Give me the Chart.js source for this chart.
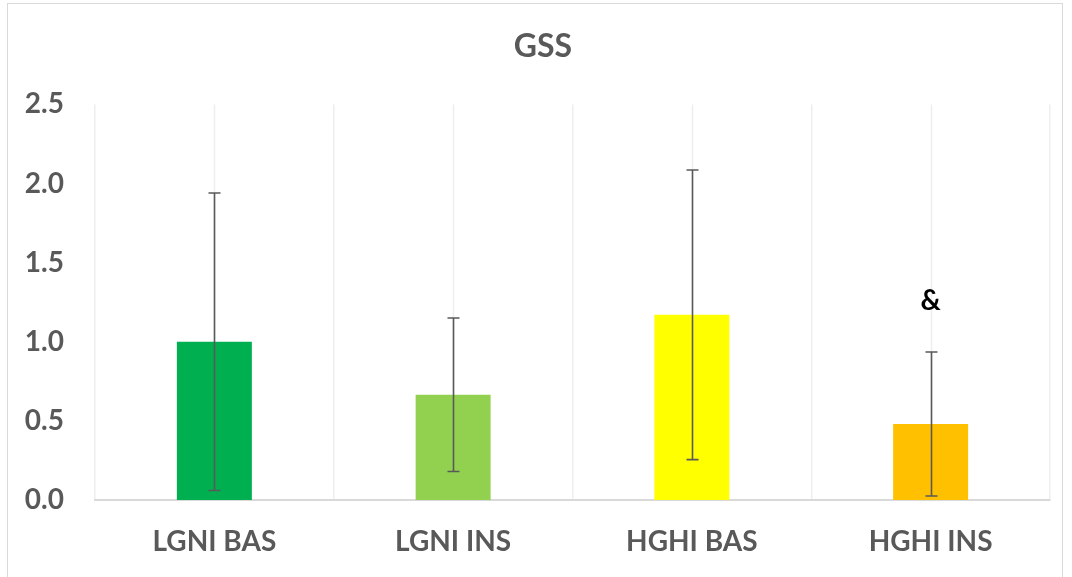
<!DOCTYPE html>
<html>
<head>
<meta charset="utf-8">
<script src="https://cdn.jsdelivr.net/npm/chart.js@4.4.0/dist/chart.umd.min.js"></script>
<style>
  html, body { margin: 0; padding: 0; background: #fff; overflow: hidden; }
  #box {
    position: absolute; left: 7px; top: 3px;
    width: 1056px; height: 580px;
    border: 1px solid #d9d9d9; box-sizing: border-box;
  }
  #wrap { position: absolute; left: 7px; top: 3px; width: 1072px; height: 574px; }
</style>
</head>
<body>
<div id="box"></div>
<div id="wrap"><canvas id="gss"></canvas></div>
<script>
// datos
const categorias = ["LGNI BAS", "LGNI INS", "HGHI BAS", "HGHI INS"];
const medias = [1.0, 0.665, 1.17, 0.48];
const errores = [0.94, 0.485, 0.915, 0.455];
const marcas = ["", "", "", "&"];
const marcaValor = [0, 0, 0, 1.26];
const coloresBarras = ["#00B050", "#92D050", "#FFFF00", "#FFC000"];

const fuente = "Lato, 'Open Sans', sans-serif";
const gris = "#595959";

// lineas verticales en el centro de cada categoria + barras de error
const extrasPlugin = {
  id: "extras",
  beforeDatasetsDraw(chart) {
    const { ctx, chartArea, scales } = chart;
    ctx.save();
    ctx.strokeStyle = "#eeeeee";
    ctx.lineWidth = 1.5;
    categorias.forEach((c, i) => {
      const x = Math.round(scales.x.getPixelForValue(i)) + 0.5;
      ctx.beginPath();
      ctx.moveTo(x, chartArea.top);
      ctx.lineTo(x, chartArea.bottom);
      ctx.stroke();
    });
    ctx.restore();
  },
  afterDatasetsDraw(chart) {
    const { ctx, scales } = chart;
    ctx.save();
    ctx.strokeStyle = gris;
    ctx.lineWidth = 1.6;
    medias.forEach((m, i) => {
      const x = Math.round(scales.x.getPixelForValue(i)) + 0.5;
      const yTop = scales.y.getPixelForValue(m + errores[i]);
      const yBot = scales.y.getPixelForValue(m - errores[i]);
      ctx.beginPath();
      ctx.moveTo(x, yTop); ctx.lineTo(x, yBot);
      ctx.moveTo(x - 6, yTop); ctx.lineTo(x + 6, yTop);
      ctx.moveTo(x - 6, yBot); ctx.lineTo(x + 6, yBot);
      ctx.stroke();
    });
    ctx.fillStyle = "#000";
    ctx.font = "bold 28px " + fuente;
    ctx.textAlign = "center";
    ctx.textBaseline = "middle";
    marcas.forEach((t, i) => {
      if (!t) return;
      ctx.fillText(t, scales.x.getPixelForValue(i), scales.y.getPixelForValue(marcaValor[i]));
    });
    ctx.restore();
  }
};

new Chart(document.getElementById("gss"), {
  type: "bar",
  data: {
    labels: categorias,
    datasets: [{
      data: medias,
      backgroundColor: coloresBarras,
      borderWidth: 0,
      categoryPercentage: 1,
      barPercentage: 0.314
    }]
  },
  options: {
    responsive: true,
    maintainAspectRatio: false,
    animation: false,
    layout: { padding: 0 },
    plugins: {
      legend: { display: false },
      tooltip: { enabled: false },
      title: {
        display: true,
        text: "GSS",
        color: gris,
        font: { family: fuente, size: 32, weight: "bold" },
        padding: { top: 24, bottom: 39 }
      }
    },
    scales: {
      x: {
        offset: true,
        grid: { display: true, offset: true, color: "#eeeeee", lineWidth: 1.5, drawTicks: false },
        border: { display: true, color: "#d9d9d9", width: 2 },
        ticks: { color: gris, padding: 25, font: { family: fuente, size: 28, weight: "bold" } },
        afterFit(s) { s.height = 77; }
      },
      y: {
        min: 0,
        max: 2.5,
        ticks: {
          stepSize: 0.5,
          color: gris,
          padding: 31,
          font: { family: fuente, size: 28, weight: "bold" },
          callback: v => v.toFixed(1)
        },
        grid: { display: false, drawTicks: false },
        border: { display: false },
        afterFit(s) { s.width = 88; }
      },
      // eje vacio a la derecha, solo reserva espacio
      yDer: {
        position: "right",
        min: 0,
        max: 2.5,
        ticks: { display: false },
        grid: { display: false, drawTicks: false },
        border: { display: false },
        afterFit(s) { s.width = 29; }
      }
    }
  },
  plugins: [extrasPlugin]
});
</script>
</body>
</html>
